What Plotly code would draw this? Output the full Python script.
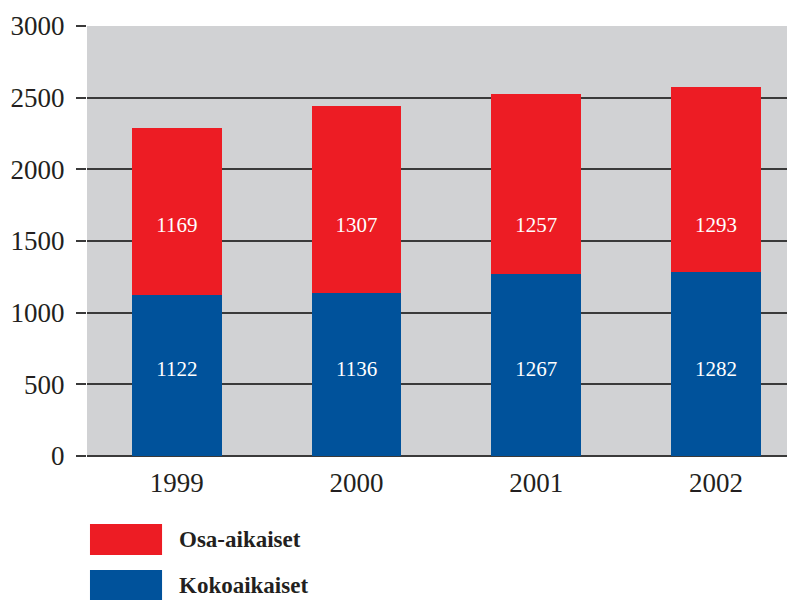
import plotly.graph_objects as go

years = ["1999", "2000", "2001", "2002"]
kokoaikaiset = [1122, 1136, 1267, 1282]
osa_aikaiset = [1169, 1307, 1257, 1293]
y_ticks = [0, 500, 1000, 1500, 2000, 2500, 3000]

BLUE = "#00529b"
RED = "#ed1c24"
GRID = "#3a3a3a"
TXT = "#231f20"
FONT = "Liberation Serif"

# label levels used in the original (labels sit at a common level across bars)
LABEL_LEVEL_KOKO = 594
LABEL_LEVEL_OSA = 1598

fig = go.Figure()
fig.add_trace(go.Bar(
    x=years, y=kokoaikaiset, marker=dict(color=BLUE, line=dict(width=0)),
    textposition="none", name="Kokoaikaiset", width=0.5, hoverinfo="x+y+name",
))
fig.add_trace(go.Bar(
    x=years, y=osa_aikaiset, marker=dict(color=RED, line=dict(width=0)),
    textposition="none", name="Osa-aikaiset", width=0.5, hoverinfo="x+y+name",
))
fig.add_trace(go.Scatter(
    x=years, y=[LABEL_LEVEL_KOKO] * len(years), mode="text",
    text=[str(v) for v in kokoaikaiset], textposition="middle center",
    textfont=dict(family=FONT, size=21, color="white"), hoverinfo="skip",
))
fig.add_trace(go.Scatter(
    x=years, y=[LABEL_LEVEL_OSA] * len(years), mode="text",
    text=[str(v) for v in osa_aikaiset], textposition="middle center",
    textfont=dict(family=FONT, size=21, color="white"), hoverinfo="skip",
))

# page body has an 8px margin, so the figure is sized/positioned to compensate
fig.update_layout(
    barmode="stack",
    width=787, height=592,
    margin=dict(l=79, r=0, t=18, b=144, autoexpand=False),
    paper_bgcolor="white",
    plot_bgcolor="#d1d2d4",
    showlegend=False,
    font=dict(family=FONT, color=TXT),
    xaxis=dict(
        type="category", range=[-0.5, 3.44], automargin=False,
        showgrid=False, showline=False, ticks="",
        tickfont=dict(family=FONT, size=27, color=TXT),
        ticklabelstandoff=8,
    ),
    yaxis=dict(
        range=[0, 3000], tickvals=y_ticks, ticktext=[str(v) for v in y_ticks], automargin=False,
        showgrid=True, gridcolor=GRID, gridwidth=1.5,
        ticks="outside", ticklen=10, tickcolor=GRID, tickwidth=1.5,
        tickfont=dict(family=FONT, size=27, color=TXT),
        zeroline=True, zerolinecolor=GRID, zerolinewidth=1.5,
        showline=False, ticklabelstandoff=6,
    ),
)

# legend drawn manually (large swatches)
legend_items = [("Osa-aikaiset", RED, -0.158, -0.230), ("Kokoaikaiset", BLUE, -0.265, -0.335)]
for label, col, y0, y1 in legend_items:
    fig.add_shape(type="rect", xref="paper", yref="paper", x0=0.0042, x1=0.106, y0=y1, y1=y0,
                  fillcolor=col, line=dict(width=0), layer="above")
    fig.add_annotation(xref="paper", yref="paper", x=0.127, y=(y0 + y1) / 2, text=f"<b>{label}</b>",
                       showarrow=False, xanchor="left", yanchor="middle",
                       font=dict(family=FONT, size=23, color=TXT))

fig.write_html("out.html")
